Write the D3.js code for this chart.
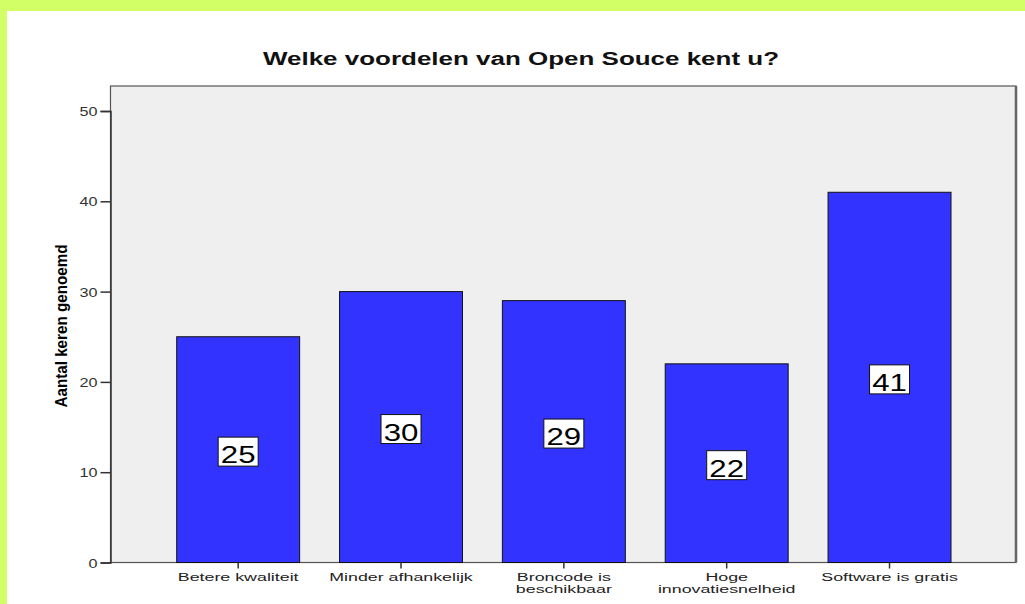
<!DOCTYPE html>
<html><head><meta charset="utf-8">
<script src="https://cdn.jsdelivr.net/npm/d3@7"></script>
<style>body{margin:0;background:#fff}svg{display:block}</style>
</head><body>
<script>
const categories = ["Betere kwaliteit", "Minder afhankelijk", "Broncode is|beschikbaar", "Hoge|innovatiesnelheid", "Software is gratis"];
const values = [25, 30, 29, 22, 41];
const yTicks = [0, 10, 20, 30, 40, 50];
const titleText = "Welke voordelen van Open Souce kent u?";
const yLabel = "Aantal keren genoemd";

const W = 1025, H = 604;
const FONT = "Liberation Sans, Arial, sans-serif";
const svg = d3.select("body").append("svg").attr("width", W).attr("height", H);

// background frame
svg.append("rect").attr("width", W).attr("height", H).attr("fill", "#d2ff66");
svg.append("rect").attr("x", 7).attr("y", 11).attr("width", W - 7).attr("height", H - 11).attr("fill", "#fff");

const plotL = 110.5, plotR = 1016, plotT = 86, plotB = 562.5;
const x = d3.scaleBand().domain(categories).range([176.7, 951]).paddingInner(0.245).paddingOuter(0);
const y = d3.scaleLinear().domain([0, 50]).range([plotB, 111]);

svg.append("rect").attr("x", plotL).attr("y", plotT).attr("width", plotR - plotL).attr("height", plotB - plotT)
  .attr("fill", "#efefef").attr("stroke", "#555").attr("stroke-width", 1.2);
svg.append("line").attr("x1", plotR).attr("x2", plotR).attr("y1", plotT).attr("y2", plotB)
  .attr("stroke", "#666").attr("stroke-width", 2.5);

// bars
svg.selectAll("rect.bar").data(values).join("rect").attr("class", "bar")
  .attr("x", (d, i) => x(categories[i]))
  .attr("y", d => y(d))
  .attr("width", x.bandwidth())
  .attr("height", d => y(0) - y(d))
  .attr("fill", "#3333ff").attr("stroke", "#111").attr("stroke-width", 1);

// value labels
const lab = svg.selectAll("g.lab").data(values).join("g").attr("class", "lab")
  .attr("transform", (d, i) => `translate(${x(categories[i]) + x.bandwidth() / 2},${y(d / 2)})`);
lab.append("rect").attr("x", -20).attr("y", -12.5).attr("width", 40).attr("height", 29)
  .attr("fill", "#fff").attr("stroke", "#111").attr("stroke-width", 1);
lab.append("text").text(d => d).attr("text-anchor", "middle")
  .attr("transform", "translate(0,13.5) scale(1.3,1)")
  .attr("font-family", FONT).attr("font-size", 24).attr("fill", "#000");

// y axis
const yAxis = svg.append("g").attr("transform", `translate(${plotL},0)`)
  .call(d3.axisLeft(y).tickValues(yTicks).tickSize(10).tickFormat(""));
yAxis.select(".domain").attr("stroke", "#333").attr("stroke-width", 1.5);
yAxis.selectAll(".tick line").attr("stroke", "#333").attr("stroke-width", 1.5);
yAxis.selectAll(".tick").append("text").text(d => d)
  .attr("text-anchor", "end").attr("transform", "translate(-13,4.5) scale(1.35,1)")
  .attr("font-family", FONT).attr("font-size", 12).attr("fill", "#333");

// x axis
const xAxis = svg.append("g").attr("transform", `translate(0,${plotB})`)
  .call(d3.axisBottom(x).tickSize(6).tickFormat(""));
xAxis.select(".domain").remove();
xAxis.selectAll(".tick line").attr("stroke", "#333").attr("stroke-width", 1.5);
xAxis.selectAll(".tick").each(function(d) {
  const g = d3.select(this);
  d.split("|").forEach((ln, k) => {
    g.append("text").text(ln).attr("text-anchor", "middle")
      .attr("transform", `translate(0,${18.5 + k * 11.5}) scale(1.55,1)`)
      .attr("font-family", FONT).attr("font-size", 11.5).attr("fill", "#222");
  });
});

// title
svg.append("text").attr("x", 521).attr("y", 65).attr("text-anchor", "middle")
  .attr("font-family", FONT).attr("font-weight", "bold").attr("font-size", 18)
  .attr("textLength", 516).attr("lengthAdjust", "spacingAndGlyphs").attr("fill", "#111").text(titleText);

// y label
svg.append("text").attr("transform", "translate(67,326) rotate(-90)").attr("text-anchor", "middle")
  .attr("font-family", "Liberation Sans Narrow, Arial Narrow, Liberation Sans, sans-serif").attr("font-weight", "bold").attr("font-size", 17)
  .attr("textLength", 163).attr("lengthAdjust", "spacingAndGlyphs").attr("fill", "#000").text(yLabel);
</script>
</body></html>
